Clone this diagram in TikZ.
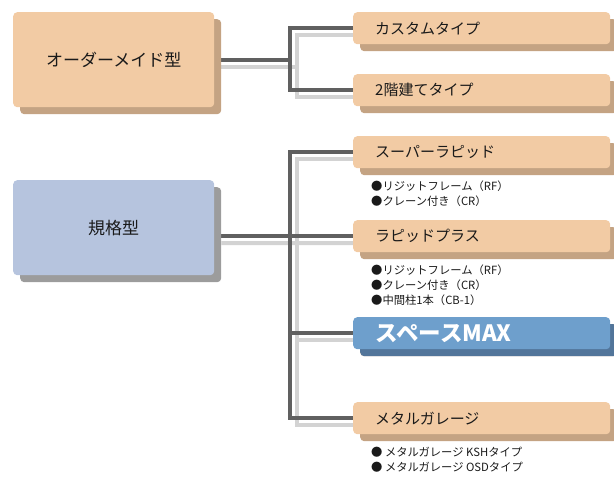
\documentclass[tikz,border=0pt]{standalone}
\usepackage{fontspec}
\newfontfamily\jp{Noto Sans CJK JP}
\usetikzlibrary{shadows,backgrounds,calc}
\definecolor{orfill}{HTML}{F2CBA4}
\definecolor{orshadow}{HTML}{C4A383}
\definecolor{bgfill}{HTML}{B6C4DE}
\definecolor{bgshadow}{HTML}{9C9C9C}
\definecolor{blfill}{HTML}{6E9FCC}
\definecolor{blshadow}{HTML}{52759A}
\definecolor{dkline}{HTML}{606060}
\definecolor{ltline}{HTML}{D3D3D3}
\definecolor{txt}{HTML}{1A1A1A}
\tikzset{
  leftbox/.style={fill=#1fill, rounded corners=4pt, minimum width=201pt, minimum height=95pt,
    anchor=north west, inner sep=0pt, text=txt, font=\jp\fontsize{17}{20}\selectfont,
    drop shadow={shadow xshift=7pt, shadow yshift=-7pt, fill=#1shadow, opacity=1}},
  rightbox/.style={fill=orfill, rounded corners=4pt, minimum height=32pt, text width=213pt,
    inner xsep=22pt, inner ysep=0pt, align=left, anchor=north west, text=txt,
    font=\jp\fontsize{15}{18}\selectfont,
    drop shadow={shadow xshift=7pt, shadow yshift=-7pt, fill=orshadow, opacity=1}},
  bluebox/.style={rightbox, fill=blfill, text=white, font=\jp\bfseries\fontsize{22.5}{24}\selectfont,
    drop shadow={shadow xshift=7pt, shadow yshift=-7pt, fill=blshadow, opacity=1}},
  bullets/.style={anchor=north west, inner sep=0pt, align=left, text=txt,
    font=\jp\fontsize{11.3}{15}\selectfont},
  dk/.style={draw=dkline, line width=4pt},
  lt/.style={draw=ltline, line width=4pt},
}
\begin{document}
\begin{tikzpicture}[x=1pt,y=-1pt]
\useasboundingbox (0,0) rectangle (614,479);
% left boxes
\node[leftbox=or] (o1) at (13,12) {オーダーメイド型};
\node[leftbox=bg] (o2) at (13,180) {規格型};
% right boxes
\node[rightbox] (c1) at (353,12) {\raisebox{-1pt}{カスタムタイプ}};
\node[rightbox] (c2) at (353,74) {\raisebox{-1pt}{2階建てタイプ}};
\node[rightbox] (r1) at (353,136) {\raisebox{-1pt}{スーパーラピッド}};
\node[rightbox] (r2) at (353,220) {\raisebox{-1pt}{ラピッドプラス}};
\node[bluebox] (r3) at (353,317) {スペースMAX};
\node[rightbox] (r4) at (353,402) {\raisebox{-1pt}{メタルガレージ}};
% bullet lists
\node[bullets] (l1) at (371,181) {●リジットフレーム（RF）\\●クレーン付き（CR）};
\node[bullets] (l2) at (371,265) {●リジットフレーム（RF）\\●クレーン付き（CR）\\●中間柱1本（CB-1）};
\node[bullets] (l3) at (371,447) {● メタルガレージ KSHタイプ\\● メタルガレージ OSDタイプ};
% junctions
\coordinate (j1) at (290,59);
\coordinate (k1) at (297,66);
\coordinate (j2) at (290,236);
\coordinate (k2) at (297,243);
\begin{scope}[on background layer]
  % light (shadow) connectors
  \draw[lt] ([shift={(7,7)}]o1.east) -| (k1);
  \draw[lt] ([shift={(7,7)}]c1.west) -| (k1) |- ([shift={(7,7)}]c2.west);
  \draw[lt] ([shift={(7,7)}]r2.west) -- ($(o2.east |- k2)+(7,0)$);
  \draw[lt] ([shift={(7,7)}]r1.west) -| (k2) |- ([shift={(7,7)}]r4.west);
  \draw[lt] ([shift={(7,7)}]r3.west) -| (k2);
  % dark connectors
  \draw[dk] (o1.east) -- (o1.east -| j1);
  \draw[dk] (c1.west) -| (j1) |- (c2.west);
  \draw[dk] (r2.west) -- (o2.east |- r2.west);
  \draw[dk] (r1.west) -| (j2) |- (r4.west);
  \draw[dk] (r3.west) -- (j2 |- r3.west);
\end{scope}
\end{tikzpicture}
\end{document}
